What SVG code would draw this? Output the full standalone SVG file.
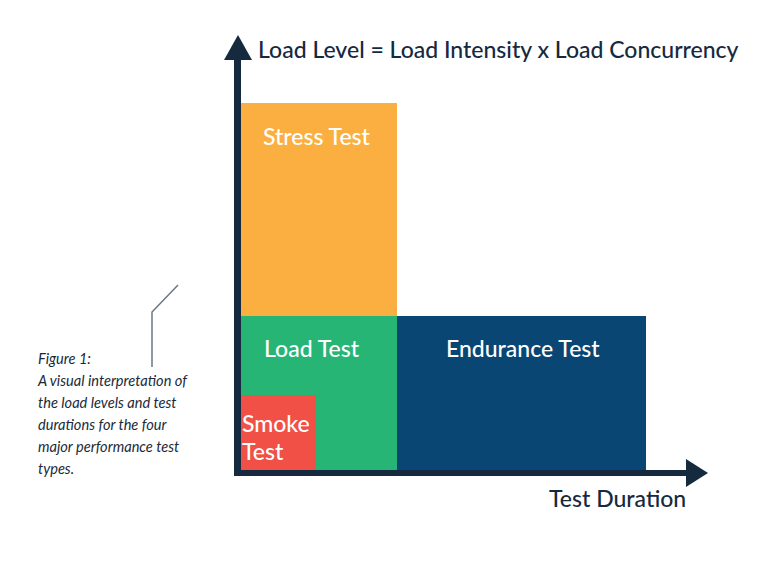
<svg xmlns="http://www.w3.org/2000/svg" width="767" height="567" viewBox="0 0 767 567">
<style>
.t{font-family:Lato,"Liberation Sans",sans-serif;font-size:23px;font-weight:500}
.w{fill:#ffffff}
.d{fill:#15293f}
.cap{font-family:Lato,"Liberation Sans",sans-serif;font-size:14.6px;font-style:italic;fill:#1a2a3a}
</style>
<rect width="767" height="567" fill="#ffffff"/>
<g id="stress"><rect x="241" y="103" width="156" height="213" fill="#FBAF41"/><text class="t w" x="263" y="145">Stress Test</text></g>
<g id="load"><rect x="241" y="316" width="156" height="155" fill="#27B575"/><text class="t w" x="264" y="357">Load Test</text></g>
<g id="endurance"><rect x="397" y="316" width="249" height="155" fill="#0A4673"/><text class="t w" x="446" y="357">Endurance Test</text></g>
<g id="smoke"><rect x="241" y="395" width="75" height="76" fill="#F05046"/><text class="t w" x="242" y="432">Smoke</text><text class="t w" x="242" y="460">Test</text></g>
<g id="connectors">
<rect x="234" y="56" width="7" height="420" fill="#15293f"/>
<polygon points="238,35 252,60 224,60" fill="#15293f"/>
<rect x="234" y="470" width="456" height="6" fill="#15293f"/>
<polygon points="708,473 686,459 686,487" fill="#15293f"/>
<polyline points="152,367 152,312 178,285" fill="none" stroke="#6b7785" stroke-width="1.5"/>
</g>
<g id="labels">
<text class="t d" x="258" y="58">Load Level = Load Intensity x Load Concurrency</text>
<text class="t d" x="549" y="507">Test Duration</text>
</g>
<g id="caption">
<text class="cap" x="38" y="364">Figure 1:</text>
<text class="cap" x="38" y="386">A visual interpretation of</text>
<text class="cap" x="38" y="408">the load levels and test</text>
<text class="cap" x="38" y="430">durations for the four</text>
<text class="cap" x="38" y="452">major performance test</text>
<text class="cap" x="38" y="474">types.</text>
</g>
</svg>
